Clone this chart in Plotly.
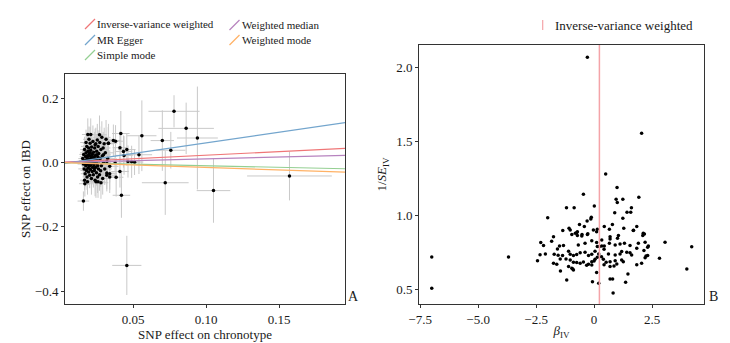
import plotly.graph_objects as go

# ---------------- Panel A data: SNP effects ----------------
bx = [0.078, 0.0863, 0.094, 0.056, 0.070, 0.0758, 0.054, 0.072, 0.105, 0.157,
      0.0457, 0.049, 0.051, 0.0465, 0.016, 0.042, 0.0416, 0.027, 0.019, 0.021,
      0.0457, 0.0438, 0.038, 0.0365, 0.041, 0.0377, 0.0384, 0.034, 0.034, 0.028,
      0.0246, 0.017, 0.032, 0.0297, 0.041, 0.0434, 0.033, 0.024, 0.026, 0.032,
      0.0155, 0.0160, 0.0162, 0.0165, 0.0168, 0.0170, 0.0172, 0.0175, 0.0176, 0.0178,
      0.0180, 0.0182, 0.0183, 0.0185, 0.0186, 0.0188, 0.0190, 0.0191, 0.0193, 0.0195,
      0.0196, 0.0198, 0.0200, 0.0201, 0.0203, 0.0205, 0.0206, 0.0208, 0.0210, 0.0211,
      0.0213, 0.0215, 0.0216, 0.0218, 0.0220, 0.0221, 0.0223, 0.0225, 0.0226, 0.0228,
      0.0230, 0.0232, 0.0233, 0.0235, 0.0237, 0.0238, 0.0240, 0.0242, 0.0244, 0.0245,
      0.0247, 0.0249, 0.0251, 0.0253, 0.0255, 0.0257, 0.0259, 0.0261, 0.0263, 0.0265,
      0.0268, 0.0270, 0.0272, 0.0275, 0.0278, 0.0280, 0.0283, 0.0286, 0.0289, 0.0292,
      0.0295, 0.0298, 0.0302, 0.0306, 0.0310, 0.0315, 0.0320, 0.0326, 0.0332, 0.0340,
      0.0168, 0.0178, 0.0188, 0.0198, 0.0185, 0.0192, 0.0202, 0.0209, 0.0214, 0.0219,
      0.0174, 0.0181, 0.0194, 0.0207, 0.0222, 0.0229, 0.0236, 0.0243, 0.0250, 0.0258]
by = [0.159, 0.106, 0.076, 0.083, 0.068, 0.038, 0.024, -0.063, -0.0875, -0.042,
      -0.32, 0.002, 0.001, 0.003, -0.12, -0.102, 0.09, 0.086, 0.087, 0.087,
      0.04, 0.022, 0.066, 0.068, 0.046, -0.002, -0.046, -0.035, -0.045, -0.063,
      -0.06, -0.066, 0.003, 0.024, -0.028, 0.034, 0.06, 0.055, -0.06, -0.033,
      0.012, -0.005, 0.025, -0.020, 0.040, 0.005, -0.035, 0.018, -0.010, 0.030,
      -0.025, 0.008, 0.050, -0.045, 0.015, -0.002, 0.035, -0.018, 0.022, -0.030,
      0.045, 0.002, -0.012, 0.028, -0.040, 0.010, 0.060, -0.022, 0.038, -0.005,
      0.018, -0.050, 0.048, 0.000, -0.028, 0.025, -0.015, 0.065, 0.008, -0.038,
      0.032, -0.008, 0.015, -0.025, 0.045, 0.003, -0.055, 0.022, -0.015, 0.058,
      0.010, -0.032, 0.035, -0.004, 0.070, -0.045, 0.018, 0.050, -0.020, 0.028,
      0.005, -0.038, 0.062, 0.012, -0.026, 0.040, -0.010, 0.078, 0.020, -0.050,
      0.045, 0.000, 0.058, -0.020, 0.030, 0.072, -0.040, 0.012, 0.060, -0.012,
      -0.055, 0.062, -0.060, 0.072, 0.003, 0.010, 0.020, -0.008, 0.004, 0.012,
      -0.004, 0.020, -0.006, 0.030, -0.002, 0.016, -0.018, 0.005, 0.024, -0.010]
se_bx = [0.0175, 0.019, 0.014, 0.010, 0.008, 0.010, 0.009, 0.016, 0.0115, 0.029,
         0.010, 0.006, 0.006, 0.005, 0.004, 0.006, 0.006, 0.005, 0.004, 0.004,
         0.006, 0.006, 0.005, 0.005, 0.005, 0.005, 0.005, 0.005, 0.005, 0.005,
         0.004, 0.004, 0.005, 0.005, 0.006, 0.006, 0.005, 0.004, 0.005, 0.005,
         0.003, 0.004, 0.003, 0.004, 0.003, 0.004, 0.003, 0.004, 0.003, 0.004,
         0.004, 0.003, 0.004, 0.003, 0.004, 0.003, 0.004, 0.004, 0.003, 0.004,
         0.004, 0.003, 0.004, 0.004, 0.003, 0.004, 0.005, 0.004, 0.004, 0.003,
         0.004, 0.004, 0.005, 0.004, 0.004, 0.004, 0.003, 0.005, 0.004, 0.004,
         0.004, 0.004, 0.005, 0.004, 0.005, 0.004, 0.005, 0.004, 0.004, 0.005,
         0.004, 0.005, 0.005, 0.004, 0.005, 0.005, 0.004, 0.005, 0.005, 0.004,
         0.005, 0.005, 0.005, 0.004, 0.005, 0.005, 0.005, 0.006, 0.005, 0.005,
         0.005, 0.005, 0.006, 0.005, 0.006, 0.006, 0.006, 0.005, 0.006, 0.006,
         0.003, 0.004, 0.004, 0.004, 0.003, 0.003, 0.004, 0.004, 0.003, 0.004,
         0.003, 0.003, 0.004, 0.004, 0.004, 0.004, 0.004, 0.004, 0.005, 0.005]
se_by = [0.05, 0.08, 0.16, 0.11, 0.094, 0.057, 0.06, 0.10, 0.10, 0.076,
         0.092, 0.05, 0.04, 0.05, 0.03, 0.07, 0.07, 0.06, 0.05, 0.05,
         0.05, 0.06, 0.05, 0.05, 0.05, 0.05, 0.06, 0.05, 0.05, 0.05,
         0.05, 0.04, 0.04, 0.04, 0.05, 0.05, 0.05, 0.05, 0.05, 0.05,
         0.03, 0.04, 0.03, 0.04, 0.04, 0.03, 0.04, 0.03, 0.04, 0.04,
         0.04, 0.03, 0.04, 0.04, 0.03, 0.04, 0.04, 0.03, 0.04, 0.04,
         0.04, 0.03, 0.04, 0.04, 0.04, 0.03, 0.05, 0.04, 0.04, 0.03,
         0.04, 0.05, 0.04, 0.03, 0.04, 0.04, 0.03, 0.05, 0.04, 0.04,
         0.04, 0.04, 0.04, 0.04, 0.05, 0.03, 0.05, 0.04, 0.04, 0.05,
         0.04, 0.04, 0.05, 0.04, 0.05, 0.05, 0.04, 0.05, 0.04, 0.05,
         0.04, 0.05, 0.05, 0.04, 0.05, 0.05, 0.04, 0.05, 0.05, 0.05,
         0.05, 0.04, 0.05, 0.05, 0.05, 0.06, 0.05, 0.05, 0.06, 0.05,
         0.03, 0.04, 0.04, 0.04, 0.03, 0.03, 0.04, 0.03, 0.03, 0.04,
         0.03, 0.03, 0.03, 0.04, 0.04, 0.04, 0.04, 0.04, 0.05, 0.04]

# MR method fits (slope, intercept)
methods = ["Inverse-variance weighted", "MR Egger", "Simple mode",
           "Weighted median", "Weighted mode"]
slopes = [0.225, 0.66, -0.10, 0.113, -0.155]
intercepts = [0.0, -0.005, 0.0, 0.0, 0.0]
colors = ["#ef7677", "#73a5cd", "#94cf92", "#b783bf", "#ffb266"]

# ---------------- Panel B data: funnel plot ----------------
beta_iv = [-0.29, 2.05, 0.50, 0.99, -0.46, 1.93, 0.95, 1.24, 1.00, 0.01,
           -1.19, -0.86, 1.61, 1.42, 1.58, 0.89, -2.00, -0.12, -0.14, 1.24,
           -0.30, -0.63, -0.42, 0.44, 0.79, 1.84, -1.08, 0.14, 0.66, 1.28,
           -1.75, -1.35, -1.03, -0.75, -0.53, -0.29, -0.03, 0.11, -0.96, -0.72,
           0.69, 1.05, 1.01, 0.69, 1.70, 2.10, 2.17, -2.30, -2.18, -1.83,
           -1.49, -1.32, -1.58, -0.68, -0.39, -0.10, 0.11, 0.33, 0.44, 0.66,
           0.91, 1.12, 1.31, 1.55, 1.91, 2.20, 2.34, 3.06, -2.33, -2.10,
           -1.72, -1.55, -1.36, -1.10, -1.03, -0.89, -0.75, -0.60, -0.39, -0.24,
           -0.10, 0.04, 0.14, 0.23, 0.33, 0.43, 0.20, 0.32, 0.14, 0.04,
           0.62, 0.91, 1.12, 1.19, 1.41, 1.55, 1.62, 1.84, 2.15, 2.20,
           2.82, -2.44, -1.46, -1.21, -1.03, -0.89, -0.75, -0.46, -0.24, -0.10,
           0.00, 0.40, 0.52, 0.69, 0.91, 1.19, 1.26, -1.75, -1.61, -1.10,
           -0.96, -0.89, -0.60, -0.32, -0.10, 0.43, 0.69, 0.86, 0.98, -1.45,
           -1.18, -0.07, 0.20, 0.11, 0.69, 0.80, 1.46, 1.36, 1.84, 2.05,
           0.82, 2.24, -7.00, -7.00, -3.69, 4.21, 4.00, 2.31, 2.31, 2.12,
           1.69, -0.81, -0.72, -0.52, -0.27, -0.92]
inv_se_iv = [2.07, 1.557, 1.282, 1.19, 1.145, 1.124, 1.11, 1.11, 1.088, 1.066,
             1.054, 1.054, 1.054, 1.023, 1.023, 1.02, 0.986, 0.989, 0.978, 0.982,
             0.964, 0.94, 0.926, 0.926, 0.94, 0.926, 0.915, 0.908, 0.908, 0.915,
             0.858, 0.899, 0.903, 0.885, 0.863, 0.872, 0.903, 0.892, 0.872, 0.865,
             0.858, 0.865, 0.847, 0.843, 0.901, 0.865, 0.876, 0.818, 0.798, 0.827,
             0.795, 0.798, 0.775, 0.802, 0.813, 0.831, 0.818, 0.836, 0.795, 0.813,
             0.802, 0.809, 0.813, 0.798, 0.813, 0.820, 0.795, 0.820, 0.735, 0.741,
             0.739, 0.732, 0.730, 0.759, 0.739, 0.730, 0.737, 0.750, 0.753, 0.730,
             0.739, 0.759, 0.791, 0.791, 0.795, 0.773, 0.741, 0.723, 0.719, 0.705,
             0.741, 0.734, 0.741, 0.757, 0.752, 0.750, 0.734, 0.780, 0.764, 0.716,
             0.712, 0.696, 0.707, 0.707, 0.700, 0.685, 0.683, 0.687, 0.671, 0.689,
             0.694, 0.705, 0.685, 0.689, 0.696, 0.700, 0.689, 0.678, 0.671, 0.656,
             0.644, 0.633, 0.678, 0.665, 0.667, 0.669, 0.656, 0.660, 0.674, 0.626,
             0.566, 0.554, 0.543, 0.615, 0.572, 0.572, 0.606, 0.550, 0.669, 0.678,
             0.478, 0.728, 0.72, 0.51, 0.72, 0.79, 0.64, 0.787, 0.73, 0.881,
             0.899, 0.881, 0.892, 0.872, 0.878, 0.64]
ivw_estimate = 0.23

# ---------------- Figure ----------------
FONT = "Liberation Serif, Times New Roman, serif"
TXT = "#1a1a1a"
OFF = 8  # page body margin offset (screen px)
W, H = 730 - OFF, 343 - OFF
ML, MR, MT, MB = 65 - OFF, 26, 45 - OFF, 39
PW, PH = W - ML - MR, H - MT - MB


def px(x):
    """screen x -> paper"""
    return (x - OFF - ML) / PW


def py(y):
    """screen y -> paper"""
    return (H - MB - (y - OFF)) / PH


fig = go.Figure()

# Panel A: error bars + points
fig.add_trace(go.Scatter(
    x=bx, y=by, mode="markers", xaxis="x", yaxis="y",
    marker=dict(color="black", size=3.5),
    error_x=dict(type="data", array=se_bx, color="#c9c9c9", thickness=1, width=0),
    error_y=dict(type="data", array=se_by, color="#c9c9c9", thickness=1, width=0),
    showlegend=False, hoverinfo="x+y"))

# Panel A: method lines
x_line = [0.0, 0.2]
for name, s, b, c in zip(methods, slopes, intercepts, colors):
    fig.add_trace(go.Scatter(
        x=x_line, y=[b + s * xv for xv in x_line], mode="lines",
        xaxis="x", yaxis="y", line=dict(color=c, width=1.2),
        name=name, showlegend=False))

# Panel B: points
fig.add_trace(go.Scatter(
    x=beta_iv, y=inv_se_iv, mode="markers", xaxis="x2", yaxis="y2",
    marker=dict(color="black", size=3.5), showlegend=False))
fig.add_trace(go.Scatter(
    x=[ivw_estimate, ivw_estimate], y=[0.0, 3.0], mode="lines",
    xaxis="x2", yaxis="y2", line=dict(color="#f4a3a8", width=1.5),
    name="Inverse-variance weighted", showlegend=False))

axis_common = dict(showline=True, mirror=True, linecolor="#333333", linewidth=1,
                   ticks="outside", ticklen=3, tickcolor="#333333",
                   showgrid=False, zeroline=False, automargin=False,
                   tickfont=dict(family=FONT, size=13, color=TXT))

fig.update_layout(
    width=W, height=H,
    margin=dict(l=ML, r=MR, t=MT, b=MB, autoexpand=False),
    paper_bgcolor="white", plot_bgcolor="white",
    font=dict(family=FONT, size=13, color=TXT),
    xaxis=dict(domain=[0, px(345)], range=[0.0034, 0.195],
               tickvals=[0.05, 0.10, 0.15], ticktext=["0.05", "0.10", "0.15"],
               title=dict(text="SNP effect on chronotype", standoff=0,
                          font=dict(family=FONT, size=13, color=TXT)),
               anchor="y", **axis_common),
    yaxis=dict(domain=[0, py(74)], range=[-0.44, 0.275],
               tickvals=[-0.4, -0.2, 0.0, 0.2],
               ticktext=["\u22120.4", "\u22120.2", "0.0", "0.2"],
               title=dict(text="SNP effect on IBD", standoff=1,
                          font=dict(family=FONT, size=13, color=TXT)),
               anchor="x", **axis_common),
    xaxis2=dict(domain=[px(419), 1.0], range=[-7.55, 4.74],
                tickvals=[-7.5, -5.0, -2.5, 0, 2.5],
                ticktext=["\u22127.5", "\u22125.0", "\u22122.5", "0", "2.5"],
                title=dict(text="<i>\u03b2</i><sub>IV</sub>", standoff=0,
                           font=dict(family=FONT, size=13, color=TXT)),
                anchor="y2", **axis_common),
    yaxis2=dict(domain=[0, 1], range=[0.403, 2.153],
                tickvals=[0.5, 1.0, 1.5, 2.0],
                ticktext=["0.5", "1.0", "1.5", "2.0"],
                title=dict(text="1/<i>SE</i><sub>IV</sub>", standoff=6,
                           font=dict(family=FONT, size=13, color=TXT)),
                anchor="x2", **axis_common),
)

# Custom legends (glyph + label), positioned in screen pixels
shapes = []
annotations = []
leg_a = [  # (method index, glyph x, row y)
    (0, 85, 24), (1, 85, 40), (2, 85, 55), (3, 229.5, 25), (4, 229.5, 40)]
for idx, gx, gy in leg_a:
    shapes.append(dict(type="line", xref="paper", yref="paper",
                       x0=px(gx), y0=py(gy + 5), x1=px(gx + 10), y1=py(gy - 5),
                       line=dict(color=colors[idx], width=1.2)))
    annotations.append(dict(text=methods[idx], xref="paper", yref="paper",
                            x=px(gx + 10), y=py(gy), xanchor="left", yanchor="middle",
                            showarrow=False,
                            font=dict(family=FONT, size=11, color=TXT)))
shapes.append(dict(type="line", xref="paper", yref="paper",
                   x0=px(542.7), y0=py(20), x1=px(542.7), y1=py(30),
                   line=dict(color="#f4a3a8", width=1.2)))
annotations.append(dict(text="Inverse-variance weighted", xref="paper", yref="paper",
                        x=px(553), y=py(25.5), xanchor="left", yanchor="middle",
                        showarrow=False, font=dict(family=FONT, size=13, color=TXT)))
annotations.append(dict(text="A", xref="paper", yref="paper", x=px(353), y=py(296),
                        xanchor="center", yanchor="middle", showarrow=False,
                        font=dict(family=FONT, size=14, color=TXT)))
annotations.append(dict(text="B", xref="paper", yref="paper", x=px(713), y=py(296),
                        xanchor="center", yanchor="middle", showarrow=False,
                        font=dict(family=FONT, size=14, color=TXT)))
fig.update_layout(shapes=shapes, annotations=annotations)

fig.write_html("out.html")
